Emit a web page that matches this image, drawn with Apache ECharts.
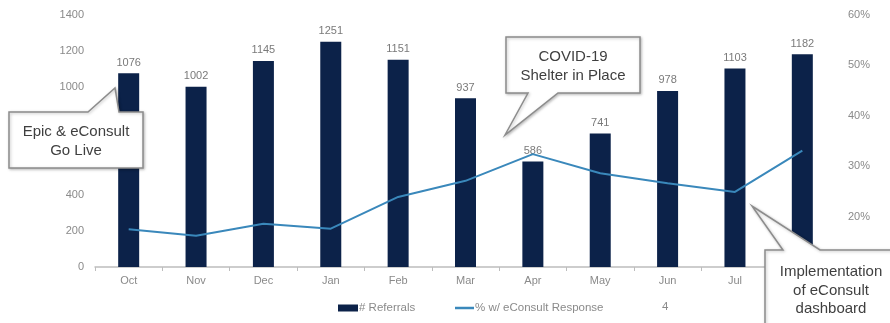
<!DOCTYPE html>
<html>
<head>
<meta charset="utf-8">
<script src="https://cdn.jsdelivr.net/npm/echarts@6/dist/echarts.min.js"></script>
<style>html,body{margin:0;padding:0;background:#fff}#c{width:890px;height:323px}</style>
</head>
<body>
<div id="c"></div>
<script>
const categories = ['Oct','Nov','Dec','Jan','Feb','Mar','Apr','May','Jun','Jul','Aug'];
const referrals = [1076,1002,1145,1251,1151,937,586,741,978,1103,1182];
const pctResponse = [0.175,0.162,0.186,0.176,0.239,0.271,0.324,0.286,0.266,0.249,0.331];
const leftTicks = {min:0, max:1400, interval:200};
const rightTicks = {min:0.1, max:0.6, interval:0.1};

const chart = echarts.init(document.getElementById('c'), null, {renderer:'canvas'});
const gray = '#8a8a8a';
const font = 'Liberation Sans, Arial, sans-serif';
function callout(points, lines, cx, y0, lh){
  const els = [{
    type:'polygon', z:100,
    shape:{points:points},
    style:{fill:'#fff', stroke:'#8c8c8c', lineWidth:1.5, shadowBlur:3, shadowColor:'rgba(0,0,0,0.25)', shadowOffsetX:1, shadowOffsetY:1}
  }];
  lines.forEach((t,i)=>{
    els.push({type:'text', z:101, x:cx, y:y0+i*lh,
      style:{text:t, fill:'#3f3f3f', font:'15px '+font, textAlign:'center', textVerticalAlign:'middle'}});
  });
  return els;
}
const graphics = [].concat(
  callout([[9,112],[88,112],[115,88],[119,112],[143,112],[143,168],[9,168]], ['Epic & eConsult','Go Live'], 76, 132, 19),
  callout([[506,37],[640,37],[640,93],[558,93],[505,135],[528,93],[506,93]], ['COVID-19','Shelter in Place'], 573, 57, 19),
  callout([[765,250],[783,250],[752,206],[820,250],[895,250],[895,330],[765,330]], ['Implementation','of eConsult','dashboard'], 831, 272, 18.5),
  [{type:'text', z:50, x:662, y:307, style:{text:'4', fill:gray, font:'11.5px '+font, textVerticalAlign:'middle'}}]
);

chart.setOption({
  animation:false,
  textStyle:{fontFamily:font},
  grid:{left:95, right:54, top:15, bottom:56},
  legend:[{
    left:333, top:297, itemWidth:20, itemHeight:7,
    textStyle:{color:gray, fontSize:11.5, padding:[0,0,0,-4]},
    data:[{name:'# Referrals', icon:'rect'}]
  },{
    left:450, top:297, itemWidth:19, itemHeight:2.5,
    textStyle:{color:gray, fontSize:11.5, padding:[0,0,0,-4]},
    data:[{name:'% w/ eConsult Response', icon:'rect'}]
  }],
  xAxis:{
    type:'category', data:categories,
    axisLine:{lineStyle:{color:'#bdbdbd', width:1.5}},
    axisTick:{show:true, lineStyle:{color:'#bdbdbd'}, length:4},
    axisLabel:{color:gray, fontSize:11, margin:8}
  },
  yAxis:[{
    type:'value', min:leftTicks.min, max:leftTicks.max, interval:leftTicks.interval,
    splitLine:{show:false}, axisLine:{show:false},
    axisLabel:{color:gray, fontSize:11, margin:11, formatter:v=>String(v)}
  },{
    type:'value', min:rightTicks.min, max:rightTicks.max, interval:rightTicks.interval,
    splitLine:{show:false}, axisLine:{show:false},
    axisLabel:{color:gray, fontSize:11, margin:12, formatter:v=>Math.round(v*100)+'%'}
  }],
  series:[{
    name:'# Referrals', type:'bar', data:referrals, barWidth:21,
    itemStyle:{color:'#0c2249'},
    label:{show:true, position:'top', color:'#7a7a7a', fontSize:11, distance:5}
  },{
    name:'% w/ eConsult Response', type:'line', yAxisIndex:1, data:pctResponse,
    symbol:'none', lineStyle:{color:'#3a88bb', width:2}, itemStyle:{color:'#3a88bb'}, z:5
  }],
  graphic:graphics
});
</script>
</body>
</html>
